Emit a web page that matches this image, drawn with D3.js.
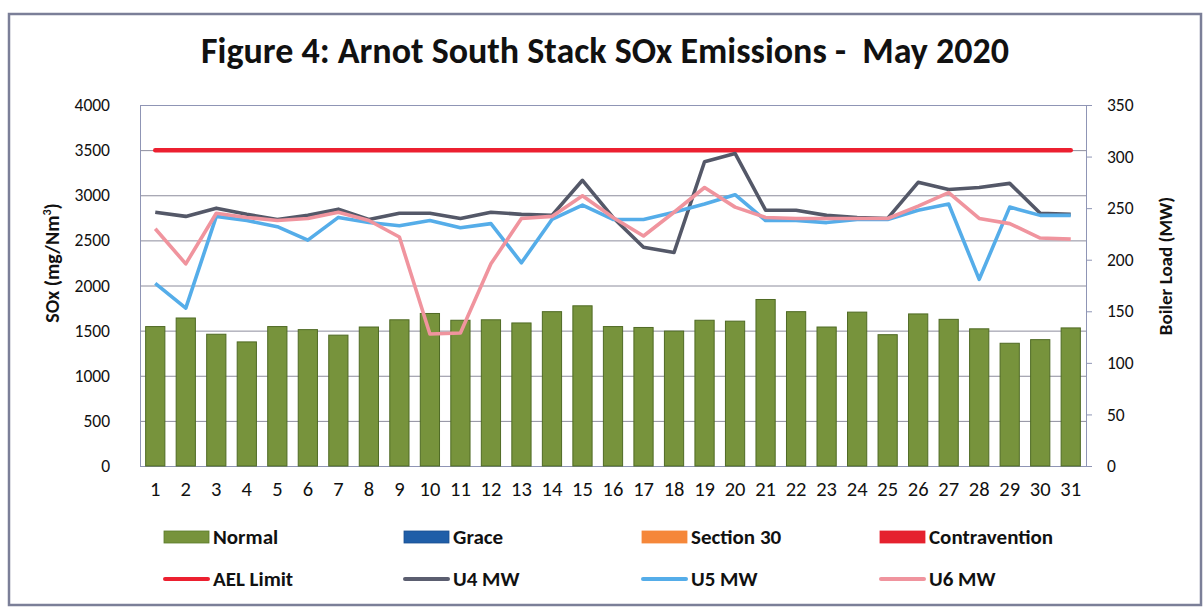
<!DOCTYPE html>
<html>
<head>
<meta charset="utf-8">
<script src="https://cdn.jsdelivr.net/npm/d3@7"></script>
<style>
  html, body { margin: 0; padding: 0; background: #fff; }
  svg { display: block; font-family: Calibri, Carlito, Lato, "Open Sans", sans-serif; }
</style>
</head>
<body>
<svg id="chart" width="1204" height="609"></svg>
<script>
// ---- data ----
const days = d3.range(1, 32).map(String);
const normalSOx = [1545, 1640, 1460, 1375, 1545, 1511, 1450, 1540, 1620, 1690, 1615, 1620, 1585, 1710, 1775,
                   1545, 1535, 1495, 1615, 1605, 1845, 1710, 1540, 1705, 1455, 1685, 1625, 1520, 1360, 1400, 1530];
const aelLimit = 3500;
const u4MW = [246, 242, 250, 244, 239, 243, 249, 239, 245, 245, 240, 246, 244, 243, 277, 241, 212, 207, 295, 303,
              248, 248, 243, 241, 240, 275, 268, 270, 274, 245, 244];
const u5MW = [177, 153, 242, 238, 232, 219, 241, 236, 233, 238, 231, 235, 197, 239, 253, 239, 239, 246, 254, 263,
              238, 238, 236, 239, 239, 248, 254, 181, 251, 243, 243];
const u6MW = [230, 196, 245, 241, 238, 240, 246, 238, 222, 128, 129, 196, 240, 242, 262, 241, 223, 246, 270, 251,
              241, 240, 240, 240, 240, 252, 265, 240, 235, 221, 220];
const leftTicks = [0, 500, 1000, 1500, 2000, 2500, 3000, 3500, 4000];
const rightTicks = [0, 50, 100, 150, 200, 250, 300, 350];
const legendRow1 = [
  {name: "Normal", color: "#77933c", stroke: "#5a7a2a"},
  {name: "Grace", color: "#1f5ea8", stroke: "#1a4f90"},
  {name: "Section 30", color: "#f5873a", stroke: "#f5873a"},
  {name: "Contravention", color: "#e5212e", stroke: "#e5212e"}
];
const legendRow2 = [
  {name: "AEL Limit", color: "#ec2030"},
  {name: "U4 MW", color: "#5b5e70"},
  {name: "U5 MW", color: "#55ade9"},
  {name: "U6 MW", color: "#f0949e"}
];

// ---- layout ----
const svg = d3.select("#chart");
const W = 1204, H = 609;
const plot = {left: 140, right: 1086, top: 105, bottom: 466};
const FONT = "Calibri, Carlito, Lato, sans-serif";

svg.append("rect").attr("x", 0).attr("y", 0).attr("width", W).attr("height", H).attr("fill", "#fff");
// outer border
svg.append("rect").attr("x", 9).attr("y", 14).attr("width", 1192).attr("height", 591)
  .attr("fill", "none").attr("stroke", "#7b7f98").attr("stroke-width", 2.5);

const x = d3.scaleBand().domain(days).range([plot.left, plot.right]).paddingInner(0.37).paddingOuter(0.185);
const xc = d => x(d) + x.bandwidth() / 2;
const yL = d3.scaleLinear().domain([0, 4000]).range([plot.bottom, plot.top]);
const yR = d3.scaleLinear().domain([0, 350]).range([plot.bottom, plot.top]);

// gridlines
svg.append("g").selectAll("line").data(leftTicks.slice(1)).join("line")
  .attr("x1", plot.left).attr("x2", plot.right)
  .attr("y1", d => yL(d) + 0.5).attr("y2", d => yL(d) + 0.5)
  .attr("stroke", "#8c8c9c").attr("stroke-width", 1);

// plot border
svg.append("rect").attr("x", plot.left + 0.5).attr("y", plot.top + 0.5)
  .attr("width", plot.right - plot.left).attr("height", plot.bottom - plot.top)
  .attr("fill", "none").attr("stroke", "#8f95b5").attr("stroke-width", 1);

// bars
svg.append("g").selectAll("rect").data(normalSOx).join("rect")
  .attr("x", (d, i) => x(days[i]))
  .attr("y", d => yL(d))
  .attr("width", x.bandwidth())
  .attr("height", d => yL(0) - yL(d))
  .attr("fill", "#77933c").attr("stroke", "#4f6a24").attr("stroke-width", 1);

// left axis
const axL = d3.axisLeft(yL).tickValues(leftTicks).tickFormat(d3.format("d")).tickSize(0).tickPadding(30);
const gL = svg.append("g").attr("transform", `translate(${plot.left},0)`).call(axL);
gL.select(".domain").remove();
gL.selectAll("text").attr("font-size", 17.5).attr("fill", "#111").attr("font-family", FONT);

// right axis
const axR = d3.axisRight(yR).tickValues(rightTicks).tickSize(6).tickPadding(15);
const gR = svg.append("g").attr("transform", `translate(${plot.right},0)`).call(axR);
gR.select(".domain").attr("stroke", "#8f95b5");
gR.selectAll(".tick line").attr("stroke", "#8f95b5");
gR.selectAll("text").attr("font-size", 17.5).attr("fill", "#111").attr("font-family", FONT);

// x axis
const axB = d3.axisBottom(x).tickSize(0).tickPadding(15);
const gB = svg.append("g").attr("transform", `translate(0,${plot.bottom})`).call(axB);
gB.select(".domain").remove();
gB.selectAll("text").attr("font-size", 20.5).attr("fill", "#111").attr("font-family", FONT);

// AEL limit
svg.append("path")
  .datum(days)
  .attr("d", d3.line().x(d => xc(d)).y(() => yL(aelLimit)))
  .attr("fill", "none").attr("stroke", "#ec2030").attr("stroke-width", 4.5).attr("stroke-linecap", "round");

// MW lines
const lineR = d3.line().x((d, i) => xc(days[i])).y(d => yR(d));
[[u4MW, "#545868"], [u5MW, "#55ade9"], [u6MW, "#f0949e"]].forEach(([data, col]) => {
  svg.append("path").datum(data).attr("d", lineR)
    .attr("fill", "none").attr("stroke", col).attr("stroke-width", 3.6)
    .attr("stroke-linejoin", "round");
});

// title
svg.append("text").attr("x", 605).attr("y", 63).attr("text-anchor", "middle")
  .attr("font-size", 36).attr("font-weight", "bold").attr("fill", "#111")
  .attr("xml:space", "preserve")
  .text("Figure 4: Arnot South Stack SOx Emissions -  May 2020");

// axis titles
const ytitle = svg.append("text").attr("transform", "translate(59,263) rotate(-90)")
  .attr("text-anchor", "middle").attr("font-size", 20).attr("font-weight", "bold").attr("fill", "#111");
ytitle.append("tspan").text("SOx (mg/Nm");
ytitle.append("tspan").attr("font-size", 12).attr("dy", -8).text("3");
ytitle.append("tspan").attr("dy", 8).text(")");

svg.append("text").attr("transform", "translate(1172,266) rotate(-90)")
  .attr("text-anchor", "middle").attr("font-size", 19).attr("font-weight", "bold").attr("fill", "#111")
  .text("Boiler Load (MW)");

// legend
const legX = [164, 404, 642, 880];
const row1 = svg.append("g").selectAll("g").data(legendRow1).join("g")
  .attr("transform", (d, i) => `translate(${legX[i]},537)`);
row1.append("rect").attr("x", 0).attr("y", -6).attr("width", 45).attr("height", 12)
  .attr("fill", d => d.color).attr("stroke", d => d.stroke).attr("stroke-width", 0.8);
row1.append("text").attr("x", 49).attr("y", 7).attr("font-size", 21).attr("font-weight", "bold")
  .attr("fill", "#111").text(d => d.name);

const row2 = svg.append("g").selectAll("g").data(legendRow2).join("g")
  .attr("transform", (d, i) => `translate(${legX[i]},579)`);
row2.append("line").attr("x1", 1).attr("x2", 44).attr("y1", 0).attr("y2", 0)
  .attr("stroke", d => d.color).attr("stroke-width", 4).attr("stroke-linecap", "round");
row2.append("text").attr("x", 49).attr("y", 7).attr("font-size", 21).attr("font-weight", "bold")
  .attr("fill", "#111").text(d => d.name);
</script>
</body>
</html>
